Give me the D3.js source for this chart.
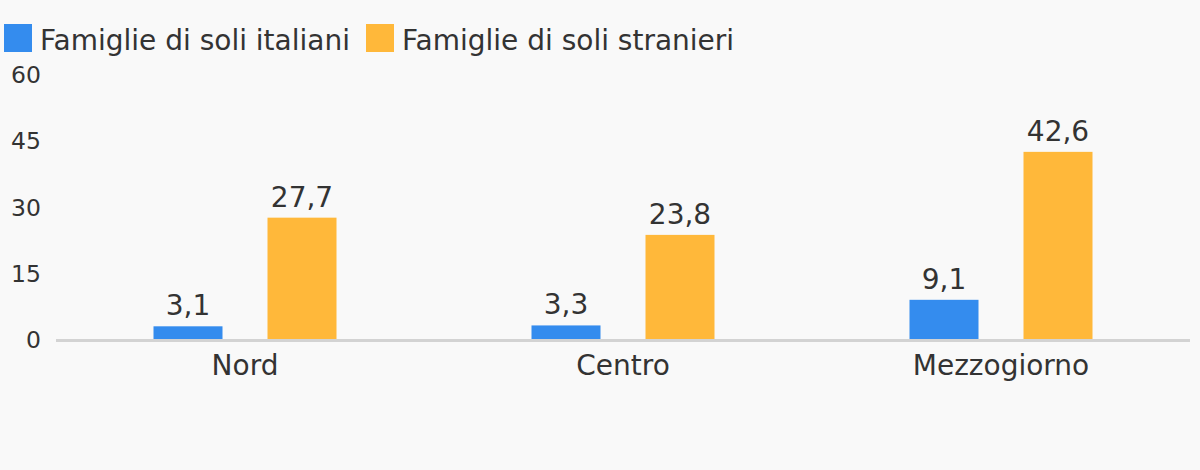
<!DOCTYPE html>
<html><head><meta charset="utf-8">
<script src="https://cdn.jsdelivr.net/npm/d3@7"></script>
<style>
html,body{margin:0;padding:0;background:#f9f9f9;}
svg{display:block;font-family:"DejaVu Sans",sans-serif;}
</style></head>
<body><svg id="c" width="1200" height="470"></svg>
<script>
const categories = ["Nord", "Centro", "Mezzogiorno"];
const seriesNames = ["Famiglie di soli italiani", "Famiglie di soli stranieri"];
const italiani = [3.1, 3.3, 9.1];
const stranieri = [27.7, 23.8, 42.6];
const yTicks = [0, 15, 30, 45, 60];
const colors = ["#348cee", "#ffb83a"];

(function(){
const svg = d3.select("#c");
svg.append("rect").attr("width",1200).attr("height",470).attr("fill","#f9f9f9");

const mLeft = 56, mRight = 1190, mTop = 75, mBottom = 340;
const x = d3.scaleBand().domain(categories).range([mLeft, mRight]);
const y = d3.scaleLinear().domain([0, 60]).range([mBottom, mTop]);
const offsets = [-57, 57];
const bw = 69;
const fmt = v => v.toFixed(1).replace(".", ",");

svg.append("g").selectAll("text").data(yTicks).join("text")
  .attr("x", 41).attr("y", d => y(d)).attr("dy", "0.35em")
  .attr("text-anchor", "end").attr("font-size", 23.5).attr("fill", "#333")
  .text(d => d);

const series = [italiani, stranieri];
series.forEach((vals, si) => {
  const g = svg.append("g");
  g.selectAll("rect").data(categories).join("rect")
    .attr("x", d => x(d) + x.bandwidth()/2 + offsets[si] - bw/2)
    .attr("y", (d,i) => y(vals[i]))
    .attr("width", bw)
    .attr("height", (d,i) => y(0) - y(vals[i]))
    .attr("fill", colors[si]);
  g.selectAll("text").data(categories).join("text")
    .attr("x", d => x(d) + x.bandwidth()/2 + offsets[si])
    .attr("y", (d,i) => y(vals[i]) - 11)
    .attr("text-anchor", "middle").attr("font-size", 28).attr("fill", "#333")
    .text((d,i) => fmt(vals[i]));
});

svg.append("line").attr("x1", mLeft).attr("x2", mRight)
  .attr("y1", y(0)+0.5).attr("y2", y(0)+0.5)
  .attr("stroke", "#d3d3d3").attr("stroke-width", 3);

svg.append("g").selectAll("text").data(categories).join("text")
  .attr("x", d => x(d) + x.bandwidth()/2).attr("y", 375)
  .attr("text-anchor", "middle").attr("font-size", 28).attr("fill", "#333")
  .text(d => d);

const legX = [4, 366];
seriesNames.forEach((n, i) => {
  svg.append("rect").attr("x", legX[i]).attr("y", 24).attr("width", 28).attr("height", 28).attr("fill", colors[i]);
  svg.append("text").attr("x", legX[i] + 36).attr("y", 50)
    .attr("font-size", 28).attr("fill", "#333").text(n);
});
})();
</script></body></html>
